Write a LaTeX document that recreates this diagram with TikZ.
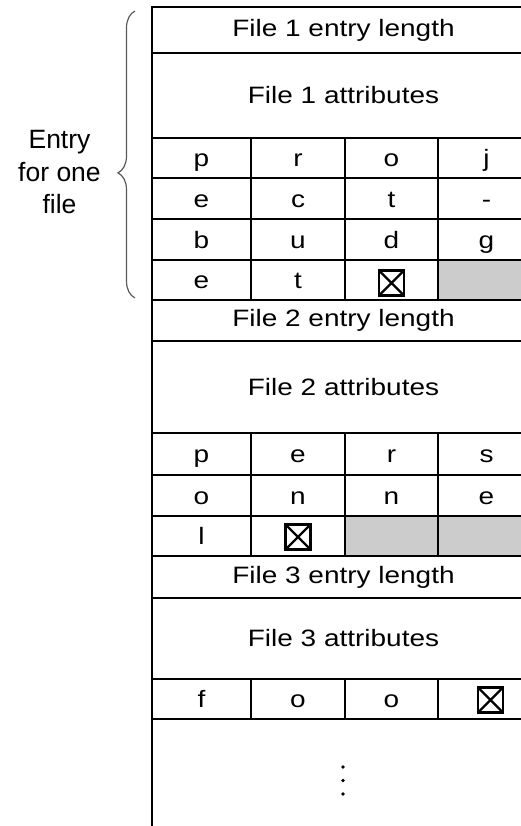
\documentclass[tikz,border=0pt]{standalone}
\usepackage{fontspec}
\setmainfont{Liberation Sans}[FakeStretch=1.18]
\newfontfamily\labfont{Liberation Sans}
\usetikzlibrary{decorations.pathreplacing}
\definecolor{padgray}{RGB}{204,204,204}
\definecolor{bracegray}{RGB}{90,90,90}
\tikzset{
  rule/.style={line width=2.9bp, black},
  cell/.style={inner sep=0pt, font=\fontsize{23.7bp}{28bp}\selectfont},
  lbl/.style={inner sep=0pt, font=\labfont\fontsize{26.5bp}{33bp}\selectfont},
  nulbox/.style={draw, line width=2.8bp, minimum width=25bp, minimum height=25bp, inner sep=0pt,
    path picture={\draw[line width=2.3bp] (path picture bounding box.north west) -- (path picture bounding box.south east)
                   (path picture bounding box.north east) -- (path picture bounding box.south west);}},
  pad/.style={fill=padgray, draw=none},
  bracestyle/.style={draw=bracegray, line width=1.2bp, decorate,
    decoration={brace, amplitude=17bp, aspect=0.436}}
}
\begin{document}
\begin{tikzpicture}[x=1bp, y=-1bp]
\useasboundingbox (0,0) rectangle (521,826);
\fill[white] (0,0) rectangle (521,826);
\clip (0,0) rectangle (521,826);
% gray padding cells
\fill[pad] (438,260) rectangle (540,300);
\fill[pad] (345,516) rectangle (540,556);
% horizontal rules
\foreach \yy in {7,53,138,178,219,260,300,341,433,475,516,556,598,679,719}
  \draw[rule] (152,\yy) -- (540,\yy);
% left border
\draw[rule] (152,5.55) -- (152,830);
% column rules
\foreach \xx in {251,345,438} {
  \draw[rule] (\xx,138) -- (\xx,300);
  \draw[rule] (\xx,433) -- (\xx,556);
  \draw[rule] (\xx,679) -- (\xx,719);
}
% texts
\node[cell] (f1len) at (343.5,30) {File 1 entry length};
\node[cell] (f1att) at (343.5,95.5) {File 1 attributes};
\node[cell] (f2len) at (343.5,320.5) {File 2 entry length};
\node[cell] (f2att) at (343.5,387) {File 2 attributes};
\node[cell] (f3len) at (343.5,577) {File 3 entry length};
\node[cell] (f3att) at (343.5,638.5) {File 3 attributes};
% file 1 name
\node[cell,anchor=base] (a11) at (201.5,166) {p};
\node[cell,anchor=base] (a12) at (298,166) {r};
\node[cell,anchor=base] (a13) at (391.5,166) {o};
\node[cell,anchor=base] (a14) at (486.5,166) {j};
\node[cell,anchor=base] (a21) at (201.5,207) {e};
\node[cell,anchor=base] (a22) at (298,207) {c};
\node[cell,anchor=base] (a23) at (391.5,207) {t};
\node[cell,anchor=base] (a24) at (486.5,207) {-};
\node[cell,anchor=base] (a31) at (201.5,248) {b};
\node[cell,anchor=base] (a32) at (298,248) {u};
\node[cell,anchor=base] (a33) at (391.5,248) {d};
\node[cell,anchor=base] (a34) at (486.5,248) {g};
\node[cell,anchor=base] (a41) at (201.5,288) {e};
\node[cell,anchor=base] (a42) at (298,288) {t};
\node[nulbox] (a43) at (391.5,283) {};
% file 2 name
\node[cell,anchor=base] (b11) at (201.5,462) {p};
\node[cell,anchor=base] (b12) at (298,462) {e};
\node[cell,anchor=base] (b13) at (391.5,462) {r};
\node[cell,anchor=base] (b14) at (486.5,462) {s};
\node[cell,anchor=base] (b21) at (201.5,504) {o};
\node[cell,anchor=base] (b22) at (298,504) {n};
\node[cell,anchor=base] (b23) at (391.5,504) {n};
\node[cell,anchor=base] (b24) at (486.5,504) {e};
\node[cell,anchor=base] (b31) at (201.5,544) {l};
\node[nulbox] (b32) at (298,537) {};
% file 3 name
\node[cell,anchor=base] (c11) at (201.5,707) {f};
\node[cell,anchor=base] (c12) at (298,707) {o};
\node[cell,anchor=base] (c13) at (391.5,707) {o};
\node[nulbox] (c14) at (490.5,700) {};
% continuation dots
\fill (343,767) circle (1.9bp) (343,780.5) circle (1.9bp) (343,794) circle (1.9bp);
% brace and label
\coordinate (bbot) at (135,298);
\coordinate (btop) at (135,11);
\draw[bracestyle] (bbot) -- (btop);
\node[lbl,anchor=base] (lab1) at (59.5,148) {Entry};
\node[lbl,anchor=base] (lab2) at (59.5,181) {for one};
\node[lbl,anchor=base] (lab3) at (59.5,213) {file};
\end{tikzpicture}
\end{document}
